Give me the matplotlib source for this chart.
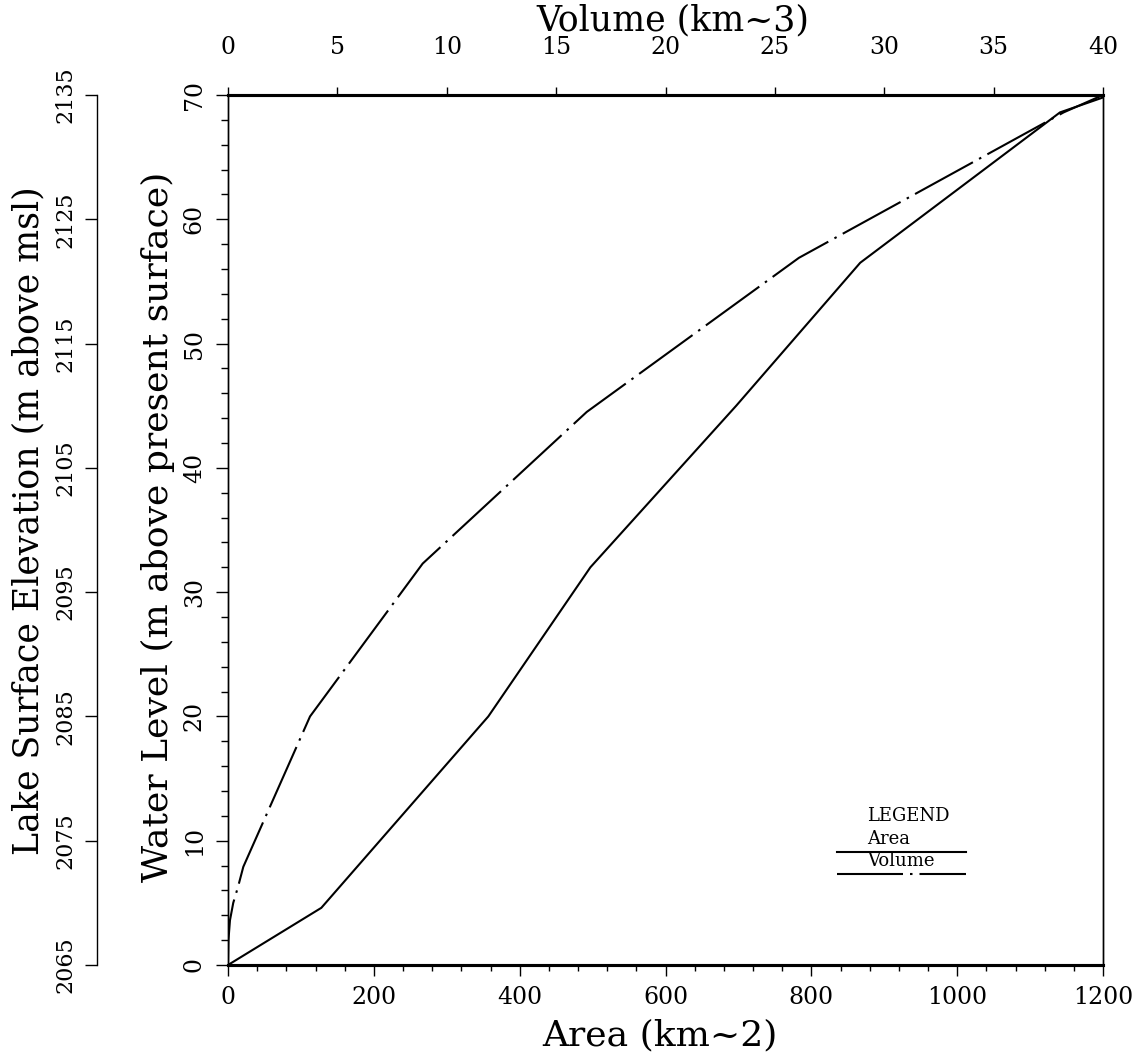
import matplotlib
matplotlib.use('Agg')
import matplotlib.pyplot as plt
from matplotlib.ticker import MultipleLocator

# ---- data ----
area_km2 = [0, 128, 357, 497, 697, 867, 1141, 1200]
area_level_m = [0, 4.6, 20, 32, 45, 56.5, 68.6, 69.8]

volume_km3 = [0, 0.02, 0.09, 0.24, 0.46, 0.7, 3.75, 8.9, 16.4, 26.1, 38.2, 40]
volume_level_m = [0, 2.0, 3.6, 5.0, 6.3, 7.9, 20, 32.3, 44.5, 56.9, 68.6, 70]

area_ticks = [0, 200, 400, 600, 800, 1000, 1200]
volume_ticks = [0, 5, 10, 15, 20, 25, 30, 35, 40]
level_ticks = [0, 10, 20, 30, 40, 50, 60, 70]
elev_ticks = [2065, 2075, 2085, 2095, 2105, 2115, 2125, 2135]
ELEV_OFFSET = 2065

plt.rcParams['font.family'] = ['DejaVu Serif']
plt.rcParams['lines.scale_dashes'] = False

W, H = 1144, 1055
fig = plt.figure(figsize=(W / 100, H / 100), dpi=100)
L, R, B, T = 228, 1103, 965, 95
ax = fig.add_axes([L / W, 1 - B / H, (R - L) / W, (B - T) / H])
ax.set_xlim(0, 1200)
ax.set_ylim(0, 70)

PX = 0.72  # points per pixel
dashdot = (0, (66 * PX, 7 * PX, 2.5 * PX, 7 * PX))

ax.plot(area_km2, area_level_m, color='black', lw=1.5, solid_joinstyle='miter')

ax2 = ax.twiny()
ax2.set_xlim(0, 40)
ax2.plot(volume_km3, volume_level_m, color='black', lw=1.5, linestyle=dashdot)

# spines
for a in (ax, ax2):
    a.spines['top'].set_linewidth(2.2)
    a.spines['bottom'].set_linewidth(2.2)
    a.spines['left'].set_linewidth(1.0)
    a.spines['right'].set_linewidth(1.0)

# bottom axis (area)
ax.set_xticks(area_ticks)
ax.xaxis.set_minor_locator(MultipleLocator(40))
ax.tick_params(axis='x', which='both', top=False, bottom=True, direction='out')
ax.tick_params(axis='x', which='major', length=8, width=1, labelsize=17, pad=7)
ax.tick_params(axis='x', which='minor', length=4, width=1)

# left axis (water level)
ax.set_yticks(level_ticks)
ax.yaxis.set_minor_locator(MultipleLocator(2))
ax.tick_params(axis='y', which='both', left=True, right=False, direction='out')
ax.tick_params(axis='y', which='major', length=9, width=1, labelsize=17,
               labelrotation=90, pad=7)
ax.tick_params(axis='y', which='minor', length=5, width=1)
for lab in ax.get_yticklabels():
    lab.set_verticalalignment('center')

# top axis (volume)
ax2.set_xticks(volume_ticks)
ax2.tick_params(axis='x', which='major', top=True, bottom=False, direction='out',
                length=6, width=1, labelsize=17, pad=20)

# secondary left axis (elevation)
sec = ax.secondary_yaxis(-(L - 97) / (R - L),
                         functions=(lambda y: y + ELEV_OFFSET, lambda e: e - ELEV_OFFSET))
sec.set_yticks(elev_ticks)
sec.tick_params(axis='y', direction='out', length=9, width=1, labelsize=16,
                labelrotation=90, pad=6)
sec.spines['left'].set_linewidth(1.0)
for lab in sec.get_yticklabels():
    lab.set_verticalalignment('center')

# axis titles
fig.text(673 / W, 1 - 20 / H, 'Volume (km~3)', ha='center', va='center', fontsize=25)
fig.text(660 / W, 1 - 1035 / H, 'Area (km~2)', ha='center', va='center', fontsize=26)
fig.text(28 / W, 1 - 521 / H, 'Lake Surface Elevation (m above msl)', rotation=90,
         ha='center', va='center', fontsize=25)
fig.text(158 / W, 1 - 527 / H, 'Water Level (m above present surface)', rotation=90,
         ha='center', va='center', fontsize=26)

# hand-drawn style legend
def axx(px):
    return (px - L) / (R - L)

def axy(py):
    return (B - py) / (B - T)

ax.text(axx(908), axy(816), 'LEGEND', transform=ax.transAxes, ha='center', va='center',
        fontsize=13)
ax.text(axx(867), axy(839), 'Area', transform=ax.transAxes, ha='left', va='center',
        fontsize=13)
ax.plot([axx(837), axx(966)], [axy(852), axy(852)], transform=ax.transAxes,
        color='black', lw=1.5, clip_on=False)
ax.text(axx(867), axy(861), 'Volume', transform=ax.transAxes, ha='left', va='center',
        fontsize=13)
ax.plot([axx(837), axx(966)], [axy(874), axy(874)], transform=ax.transAxes,
        color='black', lw=1.5, linestyle=dashdot, clip_on=False)

fig.savefig('out.png', dpi=100)
